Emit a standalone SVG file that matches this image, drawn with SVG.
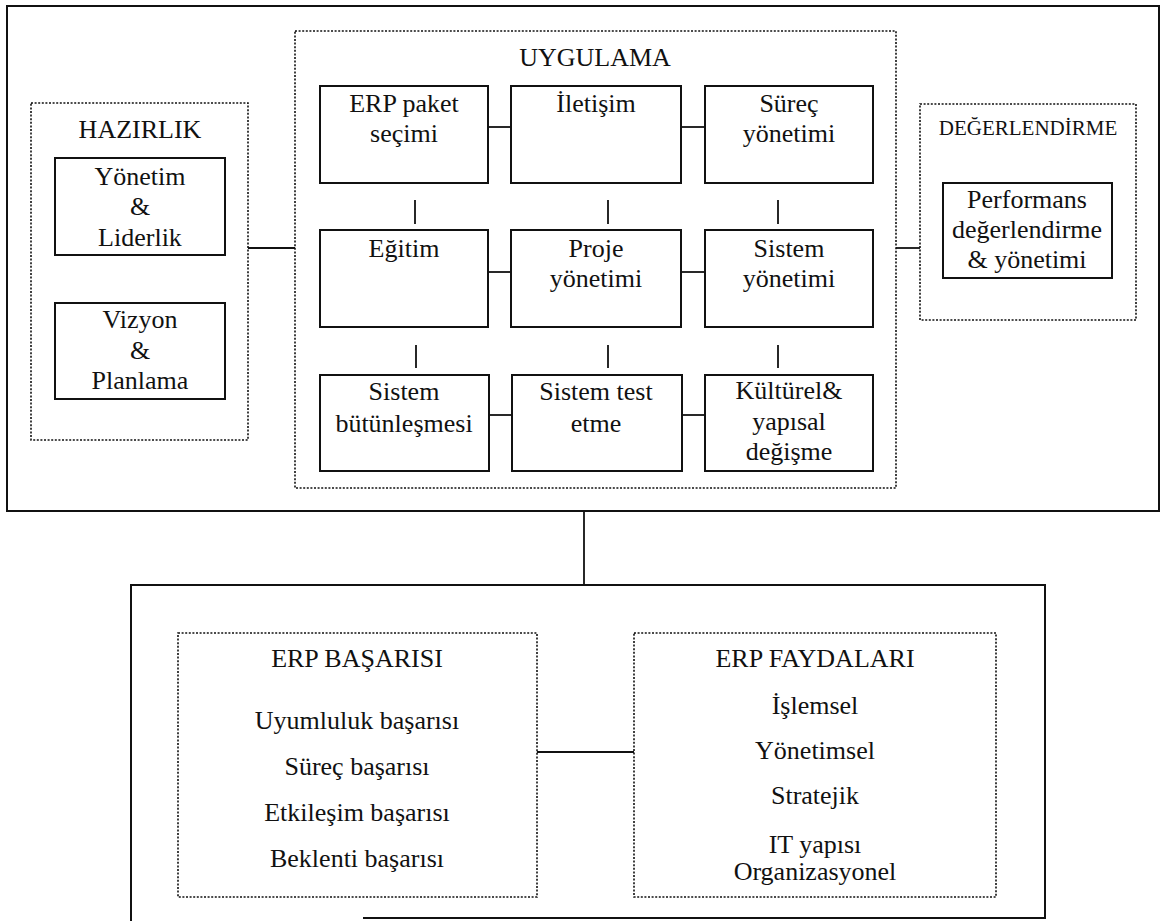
<svg xmlns="http://www.w3.org/2000/svg" width="1165" height="921" viewBox="0 0 1165 921">
<style>
  text { font-family: "Liberation Serif", "Times New Roman", serif; font-size: 26px; fill: #111; text-anchor: middle; }
  .small { font-size: 21px; }
  .solid { fill: none; stroke: #111; stroke-width: 2; }
  .outer { fill: none; stroke: #111; stroke-width: 2; }
  .dotted { fill: none; stroke: #111; stroke-width: 1.6; stroke-dasharray: 2 1.6; }
  .conn { fill: none; stroke: #111; stroke-width: 1.8; }
</style>
<rect width="1165" height="921" fill="#fff"/>

<g id="top-frame"><rect class="outer" x="7" y="6" width="1152" height="505"/></g>

<g id="hazirlik">
  <rect class="dotted" x="31" y="103" width="217" height="337"/>
  <text x="140" y="138">HAZIRLIK</text>
</g>
<g id="yonetim-liderlik">
  <rect class="solid" x="55" y="158" width="170" height="97"/>
  <text x="140" y="185">Yönetim</text>
  <text x="140" y="215">&amp;</text>
  <text x="140" y="246">Liderlik</text>
</g>
<g id="vizyon-planlama">
  <rect class="solid" x="55" y="303" width="170" height="96"/>
  <text x="140" y="328">Vizyon</text>
  <text x="140" y="359">&amp;</text>
  <text x="140" y="389">Planlama</text>
</g>

<g id="uygulama">
  <rect class="dotted" x="295" y="31" width="601" height="457"/>
  <text x="595" y="66">UYGULAMA</text>
</g>
<g id="erp-paket">
  <rect class="solid" x="320" y="86" width="168" height="97"/>
  <text x="404" y="112">ERP paket</text>
  <text x="404" y="142">seçimi</text>
</g>
<g id="iletisim">
  <rect class="solid" x="511" y="86" width="170" height="97"/>
  <text x="596" y="112">İletişim</text>
</g>
<g id="surec-yonetimi">
  <rect class="solid" x="705" y="86" width="168" height="97"/>
  <text x="789" y="112">Süreç</text>
  <text x="789" y="142">yönetimi</text>
</g>
<g id="egitim">
  <rect class="solid" x="320" y="230" width="168" height="97"/>
  <text x="404" y="257">Eğitim</text>
</g>
<g id="proje-yonetimi">
  <rect class="solid" x="511" y="230" width="170" height="97"/>
  <text x="596" y="257">Proje</text>
  <text x="596" y="287">yönetimi</text>
</g>
<g id="sistem-yonetimi">
  <rect class="solid" x="705" y="230" width="168" height="97"/>
  <text x="789" y="257">Sistem</text>
  <text x="789" y="287">yönetimi</text>
</g>
<g id="sistem-butunlesmesi">
  <rect class="solid" x="320" y="375" width="169" height="96"/>
  <text x="404" y="400">Sistem</text>
  <text x="404" y="432">bütünleşmesi</text>
</g>
<g id="sistem-test">
  <rect class="solid" x="512" y="375" width="170" height="96"/>
  <text x="596" y="400">Sistem test</text>
  <text x="596" y="432">etme</text>
</g>
<g id="kulturel">
  <rect class="solid" x="705" y="375" width="168" height="96"/>
  <text x="789" y="399">Kültürel&amp;</text>
  <text x="789" y="430">yapısal</text>
  <text x="789" y="460">değişme</text>
</g>

<g id="degerlendirme">
  <rect class="dotted" x="920" y="104" width="216" height="216"/>
  <text class="small" x="1028" y="135">DEĞERLENDİRME</text>
</g>
<g id="performans">
  <rect class="solid" x="943" y="183" width="169" height="95"/>
  <text x="1027" y="208">Performans</text>
  <text x="1027" y="238">değerlendirme</text>
  <text x="1027" y="268">&amp; yönetimi</text>
</g>

<g id="bottom-frame"><path class="outer" d="M131,921 V585 H1045 V918 H363"/></g>
<g id="erp-basarisi">
  <rect class="dotted" x="178" y="633" width="359" height="264"/>
  <text x="357" y="667">ERP BAŞARISI</text>
  <text x="357" y="729">Uyumluluk başarısı</text>
  <text x="357" y="775">Süreç başarısı</text>
  <text x="357" y="821">Etkileşim başarısı</text>
  <text x="357" y="867">Beklenti başarısı</text>
</g>
<g id="erp-faydalari">
  <rect class="dotted" x="634" y="633" width="362" height="264"/>
  <text x="815" y="667">ERP FAYDALARI</text>
  <text x="815" y="714">İşlemsel</text>
  <text x="815" y="759">Yönetimsel</text>
  <text x="815" y="804">Stratejik</text>
  <text x="815" y="853">IT yapısı</text>
  <text x="815" y="880">Organizasyonel</text>
</g>

<g id="connectors">
  <line class="conn" x1="248" y1="248" x2="295" y2="248"/>
  <line class="conn" x1="896" y1="248" x2="920" y2="248"/>
  <line class="conn" x1="488" y1="127" x2="511" y2="127"/>
  <line class="conn" x1="681" y1="127" x2="705" y2="127"/>
  <line class="conn" x1="488" y1="272" x2="511" y2="272"/>
  <line class="conn" x1="681" y1="272" x2="705" y2="272"/>
  <line class="conn" x1="489" y1="415" x2="512" y2="415"/>
  <line class="conn" x1="682" y1="415" x2="705" y2="415"/>
  <line class="conn" x1="415" y1="200" x2="415" y2="224"/>
  <line class="conn" x1="608" y1="200" x2="608" y2="224"/>
  <line class="conn" x1="778" y1="200" x2="778" y2="224"/>
  <line class="conn" x1="416" y1="345" x2="416" y2="368"/>
  <line class="conn" x1="608" y1="345" x2="608" y2="368"/>
  <line class="conn" x1="778" y1="345" x2="778" y2="368"/>
  <line class="conn" x1="584" y1="511" x2="584" y2="585"/>
  <line class="conn" x1="537" y1="752" x2="634" y2="752"/>
</g>
</svg>
